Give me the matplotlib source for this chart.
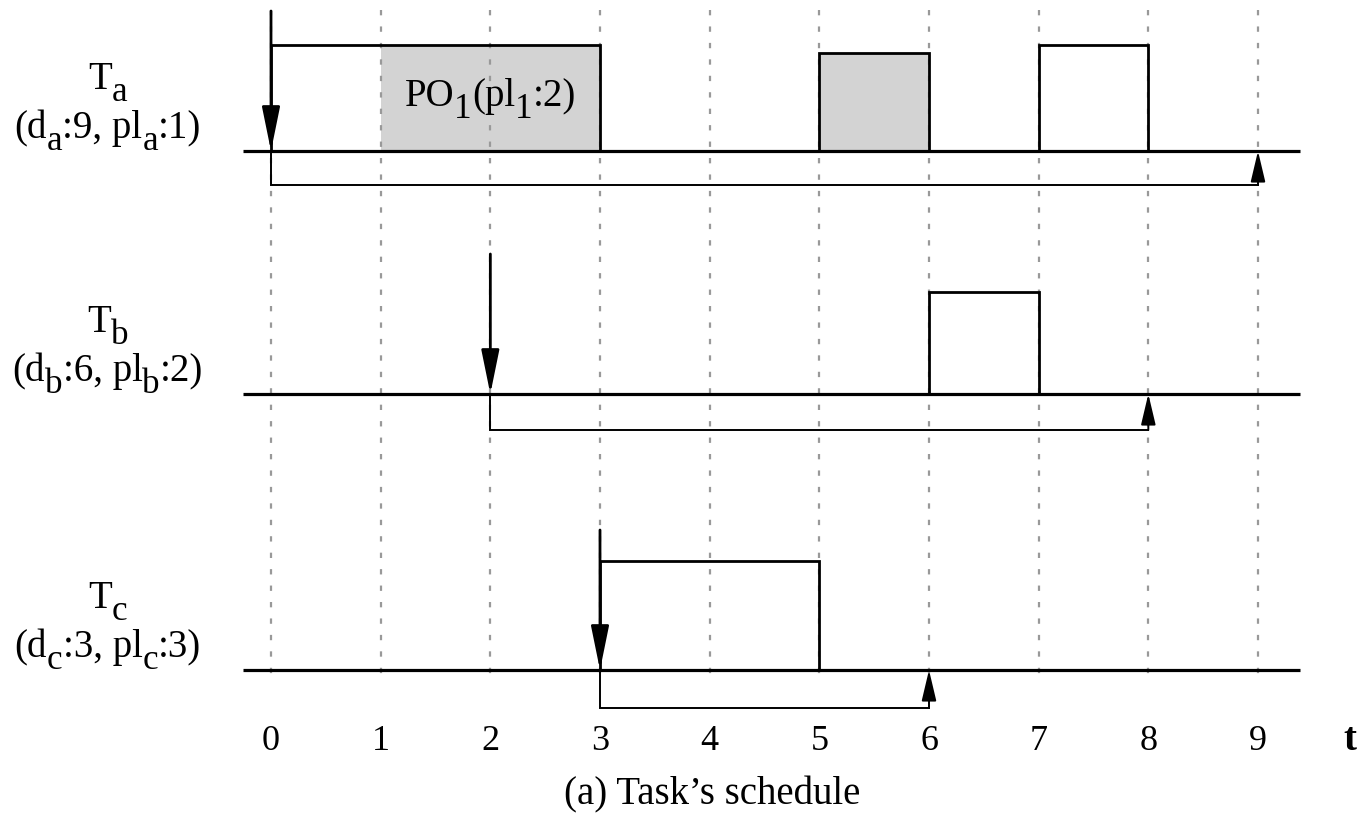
import matplotlib
matplotlib.use("Agg")
import matplotlib.pyplot as plt
import matplotlib as mpl

mpl.rcParams["font.family"] = ["Liberation Serif", "DejaVu Serif"]

# ---------------- data ----------------
# labels as (text, is_subscript) pieces
task_names = [[("T", False), ("a", True)],
              [("T", False), ("b", True)],
              [("T", False), ("c", True)]]
task_params = [[("(d", False), ("a", True), (":9, pl", False), ("a", True), (":1)", False)],
               [("(d", False), ("b", True), (":6, pl", False), ("b", True), (":2)", False)],
               [("(d", False), ("c", True), (":3, pl", False), ("c", True), (":3)", False)]]
release_times = [0, 2, 3]
relative_deadlines = [9, 6, 3]
# executed blocks (start, end) per task
blocks_a = [(0, 3), (5, 6), (7, 8)]
blocks_b = [(6, 7)]
blocks_c = [(3, 5)]
# shaded (priority-override) intervals per task
shaded_a = [(1, 3), (5, 6)]
shaded_b = []
shaded_c = []
po_label = [("PO", False), ("1", True), ("(pl", False), ("1", True), (":2)", False)]
po_label_time = 2
time_ticks = [0, 1, 2, 3, 4, 5, 6, 7, 8, 9]
axis_label = "t"
caption = "(a) Task\u2019s schedule"

# ---------------- layout (pixel-like vertical units) ----------------
W, H = 1359, 827
px_per_t = (1258 - 271) / 9.0
x0_px = 271
row_base = [151, 394, 670]
block_heights = [[106, 98, 106], [102], [109]]
arrow_rise = 140
bracket_drop = [34, 36, 38]

fig = plt.figure(figsize=(W / 100, H / 100), dpi=100)
ax = fig.add_axes([0, 0, 1, 1])
ax.set_xlim(-x0_px / px_per_t, (W - x0_px) / px_per_t)
ax.set_ylim(H, 0)
ax.axis("off")
renderer = fig.canvas.get_renderer()


def rich_text(xc, y_base, pieces, size, sub_scale=0.9, sub_drop=0.30, zorder=6):
    """Draw text made of normal / subscript pieces, centred at xc (data), baseline y_base."""
    size_px = size * 100 / 72.0
    items = []
    total = 0.0
    for s, sub in pieces:
        fs = size * sub_scale if sub else size
        t = ax.text(0, 0, s, fontsize=fs, ha="left", va="baseline", zorder=zorder)
        w = t.get_window_extent(renderer).width
        items.append((t, w, sub))
        total += w
    x = xc - (total / 2.0) / px_per_t
    for t, w, sub in items:
        t.set_position((x, y_base + (sub_drop * size_px if sub else 0)))
        x += w / px_per_t


blocks_all = [blocks_a, blocks_b, blocks_c]
shaded_all = [shaded_a, shaded_b, shaded_c]

# grey fills
for i in range(3):
    base = row_base[i]
    for (s, e) in shaded_all[i]:
        hgt = next(h for (bs, be), h in zip(blocks_all[i], block_heights[i]) if bs <= s and e <= be)
        ax.fill_between([s, e], base, base - hgt, color="#d3d3d3", lw=0, zorder=1)

# dashed time grid
for t in time_ticks:
    ax.plot([t, t], [10, 676], color="#999999", lw=1.6, linestyle=(0, (2.4, 5.0)), zorder=2)

# baselines
for base in row_base:
    ax.plot([-0.255, 9.38], [base, base], color="black", lw=2.3, zorder=4, solid_capstyle="butt")

# block outlines
for i in range(3):
    base = row_base[i]
    for (s, e), hgt in zip(blocks_all[i], block_heights[i]):
        ax.plot([s, s, e, e], [base, base - hgt, base - hgt, base], color="black", lw=2.0,
                zorder=3, solid_joinstyle="miter")

# release arrows
for i in range(3):
    r = release_times[i]
    base = row_base[i]
    ax.annotate("", xy=(r, base), xytext=(r, base - arrow_rise),
                arrowprops=dict(arrowstyle="-|>,head_length=27,head_width=5.5",
                                mutation_scale=1, color="black", lw=2.0,
                                shrinkA=0, shrinkB=0), zorder=5)

# deadline brackets
for i in range(3):
    r = release_times[i]
    d = r + relative_deadlines[i]
    base = row_base[i]
    yb = base + bracket_drop[i]
    ax.plot([r, r, d], [base, yb, yb], color="black", lw=1.4, zorder=5,
            solid_joinstyle="miter")
    ax.annotate("", xy=(d, base), xytext=(d, yb),
                arrowprops=dict(arrowstyle="-|>,head_length=19,head_width=4.5",
                                mutation_scale=1, color="black", lw=1.4,
                                shrinkA=0, shrinkB=0), zorder=5)

# task labels
lab_x = (108 - x0_px) / px_per_t
for i in range(3):
    base = row_base[i]
    rich_text(lab_x, base - 62, task_names[i], 28)
    rich_text(lab_x, base - 13, task_params[i], 28)

# PO label
rich_text(po_label_time, row_base[0] - 45, po_label, 28)

# time tick labels
for t in time_ticks:
    ax.text(t, 750, str(t), fontsize=26, ha="center", va="baseline")
ax.text((1350 - x0_px) / px_per_t, 750, axis_label, fontsize=28, fontweight="bold",
        ha="center", va="baseline")

# caption
ax.text((712 - x0_px) / px_per_t, 795, caption, fontsize=28, ha="center", va="center")

fig.savefig("out.png", dpi=100)
